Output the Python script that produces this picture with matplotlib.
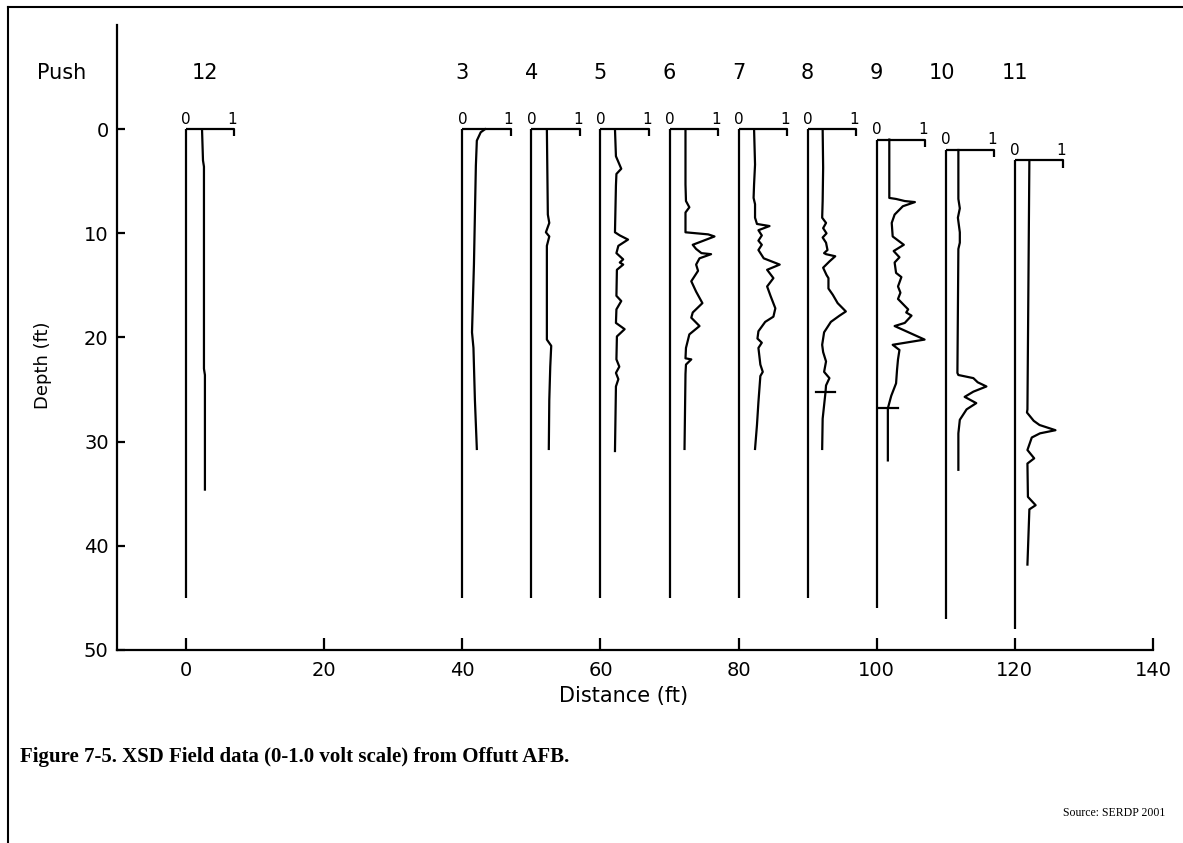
import numpy as np
import matplotlib.pyplot as plt
from matplotlib.lines import Line2D

# the scanned figure uses a wide sans face, DejaVu Sans is the closest match
plt.rcParams['font.family'] = ['DejaVu Sans']

# PUSH LOCATIONS (ft)
push_names = ["12", "3", "4", "5", "6", "7", "8", "9", "10", "11"]
push_dist = [0, 40, 50, 60, 70, 80, 90, 100, 110, 120]
push_top = [0, 0, 0, 0, 0, 0, 0, 1, 2, 3]
push_bottom = [45, 45, 45, 45, 45, 45, 45, 46, 47, 48]
label_dist = [2.7, 40, 50, 60, 70, 80, 90, 100, 109.5, 120]

# XSD READINGS: depth (ft) and signal (volts)
depth_12 = [0, 3.0, 3.6, 23.0, 23.6, 34.6]
volt_12 = [0.33, 0.35, 0.37, 0.37, 0.39, 0.39]

depth_3 = [0, 0.3, 1.1, 3.5, 13.0, 19.5, 21.0, 26.0, 30.7]
volt_3 = [0.47, 0.38, 0.30, 0.28, 0.24, 0.20, 0.23, 0.26, 0.30]

depth_4 = [0, 8.2, 9.0, 9.9, 10.3, 11.2, 20.2, 20.8, 22.8, 26.0, 30.7]
volt_4 = [0.32, 0.34, 0.37, 0.30, 0.37, 0.32, 0.32, 0.41, 0.39, 0.37, 0.36]

depth_5 = [0, 2.6, 3.8, 4.3, 5.4, 9.9, 10.2, 10.6, 11.2, 11.9, 12.5, 12.8, 13.0,
           13.5, 16.0, 16.5, 17.3, 18.6, 19.2, 19.9, 22.1, 22.8, 23.4, 24.0, 24.7, 30.9]
volt_5 = [0.30, 0.32, 0.43, 0.33, 0.32, 0.30, 0.40, 0.57, 0.37, 0.33, 0.47, 0.40, 0.47,
          0.34, 0.33, 0.43, 0.33, 0.32, 0.50, 0.34, 0.33, 0.39, 0.32, 0.37, 0.32, 0.30]

depth_6 = [0, 5.3, 6.9, 7.5, 8.0, 9.9, 10.1, 10.3, 11.1, 11.5, 11.9, 12.0, 12.4, 13.0,
           13.6, 14.6, 15.6, 16.7, 17.6, 18.1, 18.9, 19.7, 21.0, 22.0, 22.1, 22.6, 23.5, 30.7]
volt_6 = [0.33, 0.33, 0.34, 0.41, 0.33, 0.33, 0.80, 0.93, 0.48, 0.55, 0.66, 0.86, 0.62, 0.55,
          0.59, 0.45, 0.55, 0.68, 0.48, 0.45, 0.62, 0.41, 0.34, 0.33, 0.45, 0.34, 0.33, 0.31]

depth_7 = [0, 3.4, 5.3, 6.6, 7.2, 8.5, 9.1, 9.3, 9.7, 10.2, 10.7, 11.1, 11.6, 12.4, 13.0,
           13.5, 14.3, 15.1, 16.0, 17.2, 18.0, 18.5, 19.4, 20.1, 20.5, 21.0, 22.6, 23.3,
           23.7, 26.2, 28.4, 30.7]
volt_7 = [0.32, 0.34, 0.32, 0.31, 0.34, 0.34, 0.38, 0.64, 0.41, 0.48, 0.41, 0.48, 0.41, 0.52, 0.85,
          0.59, 0.72, 0.59, 0.66, 0.76, 0.72, 0.55, 0.41, 0.39, 0.48, 0.41, 0.45, 0.50,
          0.45, 0.41, 0.38, 0.34]

depth_8 = [0, 3.7, 6.9, 8.5, 9.0, 9.5, 10.0, 10.4, 10.9, 11.6, 11.9, 12.0, 12.2, 12.7,
           13.3, 14.0, 14.3, 15.3, 15.9, 16.7, 17.5, 17.9, 18.5, 19.5, 20.7, 21.4, 22.3,
           23.3, 23.9, 24.6, 25.2, 27.8, 30.7]
volt_8 = [0.31, 0.32, 0.31, 0.30, 0.38, 0.32, 0.39, 0.31, 0.38, 0.41, 0.34, 0.38, 0.57, 0.45,
          0.32, 0.39, 0.43, 0.43, 0.52, 0.62, 0.79, 0.66, 0.48, 0.34, 0.30, 0.32, 0.38,
          0.34, 0.45, 0.38, 0.37, 0.31, 0.30]

depth_9 = [1.0, 6.6, 6.7, 6.9, 7.0, 7.4, 8.2, 9.0, 10.3, 11.1, 11.7, 12.3, 12.8, 13.8,
           14.2, 15.1, 15.7, 16.3, 17.3, 17.6, 17.9, 18.6, 18.9, 20.2, 20.7, 21.2, 22.1,
           23.1, 24.4, 25.6, 26.8, 31.8]
volt_9 = [0.26, 0.26, 0.40, 0.58, 0.79, 0.54, 0.37, 0.31, 0.33, 0.56, 0.35, 0.47, 0.37, 0.40,
          0.51, 0.44, 0.49, 0.44, 0.65, 0.61, 0.72, 0.58, 0.37, 0.99, 0.33, 0.47, 0.44,
          0.42, 0.40, 0.30, 0.23, 0.23]

depth_10 = [2.0, 6.7, 7.6, 8.5, 9.9, 10.9, 11.5, 23.4, 23.6, 23.9, 24.3, 24.7, 25.2, 25.7,
            26.3, 26.9, 27.9, 29.2, 32.7]
volt_10 = [0.26, 0.26, 0.29, 0.25, 0.29, 0.29, 0.26, 0.24, 0.26, 0.57, 0.66, 0.84, 0.57, 0.39,
           0.63, 0.43, 0.29, 0.26, 0.26]

depth_11 = [3.0, 26.9, 27.2, 28.0, 28.4, 28.9, 29.2, 29.6, 30.8, 31.6, 32.1, 35.3, 36.1,
            36.5, 41.8]
volt_11 = [0.30, 0.26, 0.25, 0.39, 0.51, 0.84, 0.52, 0.35, 0.26, 0.40, 0.26, 0.27, 0.43,
           0.30, 0.26]

depths = [depth_12, depth_3, depth_4, depth_5, depth_6, depth_7, depth_8, depth_9, depth_10, depth_11]
volts = [volt_12, volt_3, volt_4, volt_5, volt_6, volt_7, volt_8, volt_9, volt_10, volt_11]

# depth marks drawn across the trace of pushes 8 and 9
mark_push = ["8", "9"]
mark_depth = [25.2, 26.8]

FT_PER_VOLT = 7.0   # 0-1 volt scale bar spans 7 ft of distance
LW = 1.6

fig = plt.figure(figsize=(11.83, 8.43), dpi=100)
ax = fig.add_axes([117 / 1183, 193 / 843, 1036 / 1183, 625 / 843])

for name, x0, top, bot, lx, d, v in zip(push_names, push_dist, push_top, push_bottom,
                                        label_dist, depths, volts):
    # zero-volt baseline
    ax.plot([x0, x0], [top, bot], color='k', lw=LW, solid_capstyle='butt')
    # 0-1 volt scale bar
    ax.plot([x0, x0 + FT_PER_VOLT, x0 + FT_PER_VOLT], [top, top, top + 0.7],
            color='k', lw=LW, solid_capstyle='butt')
    ax.text(x0, top - 0.25, "0", ha='center', va='bottom', fontsize=11)
    ax.text(x0 + FT_PER_VOLT - 0.3, top - 0.25, "1", ha='center', va='bottom', fontsize=11)
    # signal trace
    ax.plot(x0 + FT_PER_VOLT * np.array(v), d, color='k', lw=LW)
    # push number
    ax.text(lx, -5.4, name, ha='center', va='center', fontsize=15)

    if name in mark_push:
        md = mark_depth[mark_push.index(name)]
        xm = x0 + FT_PER_VOLT * np.interp(md, d, v)
        ax.plot([xm - 1.4, xm + 1.4], [md, md], color='k', lw=LW)

ax.text(-18, -5.4, "Push", ha='center', va='center', fontsize=15, clip_on=False)

ax.set_xlim(-10, 140)
ax.set_ylim(50, -10)
ax.set_xticks(np.arange(0, 141, 20))
ax.set_yticks(np.arange(0, 51, 10))
ax.spines['top'].set_visible(False)
ax.spines['right'].set_visible(False)
ax.spines['left'].set_linewidth(LW)
ax.spines['bottom'].set_linewidth(LW)
ax.tick_params(axis='x', direction='in', length=9, width=LW, labelsize=14, pad=8)
ax.tick_params(axis='y', direction='in', length=6, width=LW, labelsize=14, pad=6)

ax.set_xlabel("Distance (ft)", fontsize=15)
ax.xaxis.set_label_coords(0.489, -0.058)
ax.set_ylabel("Depth (ft)", fontsize=13)
ax.yaxis.set_label_coords(-0.063, 0.455)

# page frame
fig.add_artist(Line2D([8 / 1183, 8 / 1183], [0, 1 - 7 / 843], transform=fig.transFigure,
                      color='k', lw=1.5))
fig.add_artist(Line2D([8 / 1183, 1], [1 - 7 / 843, 1 - 7 / 843], transform=fig.transFigure,
                      color='k', lw=1.5))

fig.text(20 / 1183, 1 - 757 / 843, "Figure 7-5. XSD Field data (0-1.0 volt scale) from Offutt AFB.",
         ha='left', va='center', family='Liberation Serif', weight='bold', fontsize=15)
fig.text(1165 / 1183, 1 - 813 / 843, "Source: SERDP 2001", ha='right', va='center',
         family='Liberation Serif', fontsize=8.5)

fig.savefig("out.png", dpi=100)
